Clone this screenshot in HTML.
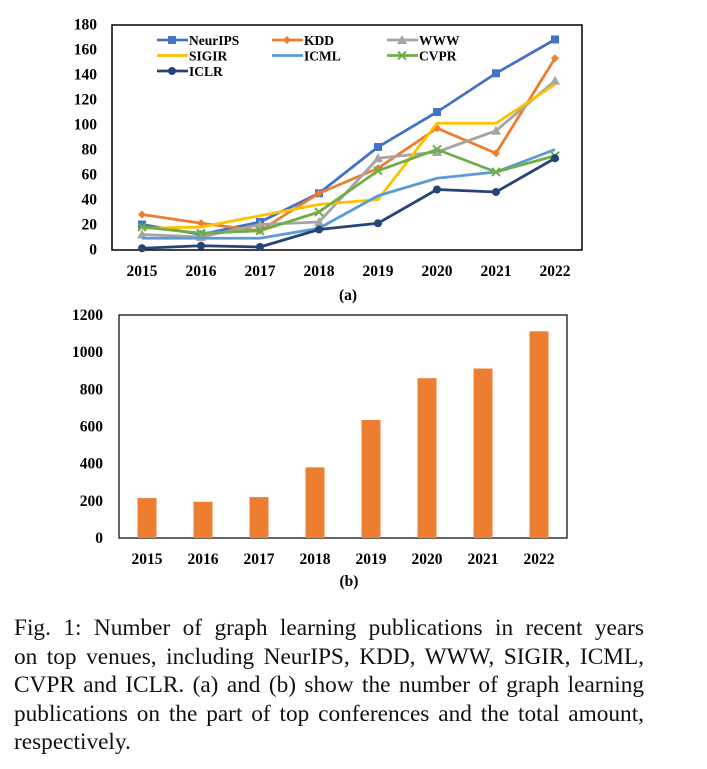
<!DOCTYPE html>
<html><head><meta charset="utf-8"><style>
body{margin:0;background:#fff;width:707px;height:769px;overflow:hidden;font-family:"Liberation Serif",serif}
#cap{position:absolute;left:14px;top:614px;width:630px;font-size:23.3px;line-height:28.6px;color:#111}
#cap div{white-space:nowrap;text-align:justify;text-align-last:justify}
#cap div.last{text-align-last:left}
</style></head><body>
<svg id="svg" width="707" height="600" style="position:absolute;left:0;top:0" font-family="Liberation Serif, serif" font-weight="bold"></svg>
<div id="cap"><div>Fig. 1: Number of graph learning publications in recent years</div><div>on top venues, including NeurIPS, KDD, WWW, SIGIR, ICML,</div><div>CVPR and ICLR. (a) and (b) show the number of graph learning</div><div>publications on the part of top conferences and the total amount,</div><div class="last">respectively.</div></div>
<script>
const years=["2015","2016","2017","2018","2019","2020","2021","2022"];
const neurips=[20,12,22,45,82,110,141,168];
const kdd=[28,21,15,45,65,97,77,153];
const www=[12,10,20,22,73,78,95,135];
const sigir=[17,18,27,36,40,101,101,132];
const icml=[9,9,9,17,43,57,62,80];
const cvpr=[18,13,15,30,63,80,62,75];
const iclr=[1,3,2,16,21,48,46,73];
const ticksA=[0,20,40,60,80,100,120,140,160,180];
const totals=[215,195,220,380,635,860,912,1112];
const ticksB=[0,200,400,600,800,1000,1200];

const NS="http://www.w3.org/2000/svg",svg=document.getElementById('svg');
function mk(t,a,p){const e=document.createElementNS(NS,t);for(const k in a)e.setAttribute(k,a[k]);(p||svg).appendChild(e);return e;}
const xa=i=>142+i*59, ya=v=>249.5-v*(225/180);
let box=mk('rect',{x:112,y:25,width:470,height:225,fill:'none',stroke:'#000','stroke-width':1.5});

ticksA.forEach(v=>{let t=mk('text',{x:97,y:ya(v)+5,'text-anchor':'end','font-size':15.5});t.textContent=v;
});
years.forEach((y,i)=>{let t=mk('text',{x:xa(i),y:276,'text-anchor':'middle','font-size':15.5});t.textContent=y;
});
let la=mk('text',{x:348,y:300,'text-anchor':'middle','font-size':15.5});la.textContent='(a)';

const series=[["NeurIPS",neurips,"#4472c4","sq"],["KDD",kdd,"#ed7d31","dia"],["WWW",www,"#a5a5a5","tri"],["SIGIR",sigir,"#ffc000","none"],["ICML",icml,"#5b9bd5","none"],["CVPR",cvpr,"#70ad47","x"],["ICLR",iclr,"#264478","circ"]];
function marker(g,type,x,y,c){
 if(type=='sq')mk('rect',{x:x-4,y:y-4,width:8,height:8,fill:c},g);
 else if(type=='dia')mk('path',{d:`M${x},${y-4}L${x+4},${y}L${x},${y+4}L${x-4},${y}Z`,fill:c},g);
 else if(type=='tri')mk('path',{d:`M${x},${y-5}L${x+5},${y+4}L${x-5},${y+4}Z`,fill:c},g);
 else if(type=='circ')mk('circle',{cx:x,cy:y,r:4,fill:c},g);
 else if(type=='x')mk('path',{d:`M${x-4},${y-4}L${x+4},${y+4}M${x+4},${y-4}L${x-4},${y+4}`,stroke:c,'stroke-width':2},g);
}
series.forEach(([name,d,c,m],si)=>{
 const g=mk('g',{});
 mk('polyline',{points:d.map((v,i)=>xa(i)+','+ya(v)).join(' '),fill:'none',stroke:c,'stroke-width':2.8,'stroke-linejoin':'round'},g);
 d.forEach((v,i)=>marker(g,m,xa(i),ya(v),c));
 const col=si%3,row=Math.floor(si/3),lx=157+col*115,ly=40+row*15.5;
 const lg=mk('g',{});
 mk('line',{x1:lx,y1:ly,x2:lx+31,y2:ly,stroke:c,'stroke-width':2.8},lg);marker(lg,m,lx+15,ly,c);
 let t=mk('text',{x:lx+32,y:ly+5,'font-size':13.5},lg);t.textContent=name;
});
const xb=i=>147+i*56, yb=v=>538-v*(223/1200);
let boxb=mk('rect',{x:119,y:315,width:448,height:223,fill:'none',stroke:'#000','stroke-width':1.2});

ticksB.forEach(v=>{let t=mk('text',{x:103,y:yb(v)+5,'text-anchor':'end','font-size':15.5});t.textContent=v;
});
totals.forEach((v,i)=>{let r=mk('rect',{x:xb(i)-9.5,y:yb(v),width:19,height:538-yb(v),fill:'#ed7d31'});
});
years.forEach((y,i)=>{let t=mk('text',{x:xb(i),y:564,'text-anchor':'middle','font-size':15.5});t.textContent=y;
});
let lb=mk('text',{x:349,y:586,'text-anchor':'middle','font-size':15.5});lb.textContent='(b)';

</script>
</body></html>
